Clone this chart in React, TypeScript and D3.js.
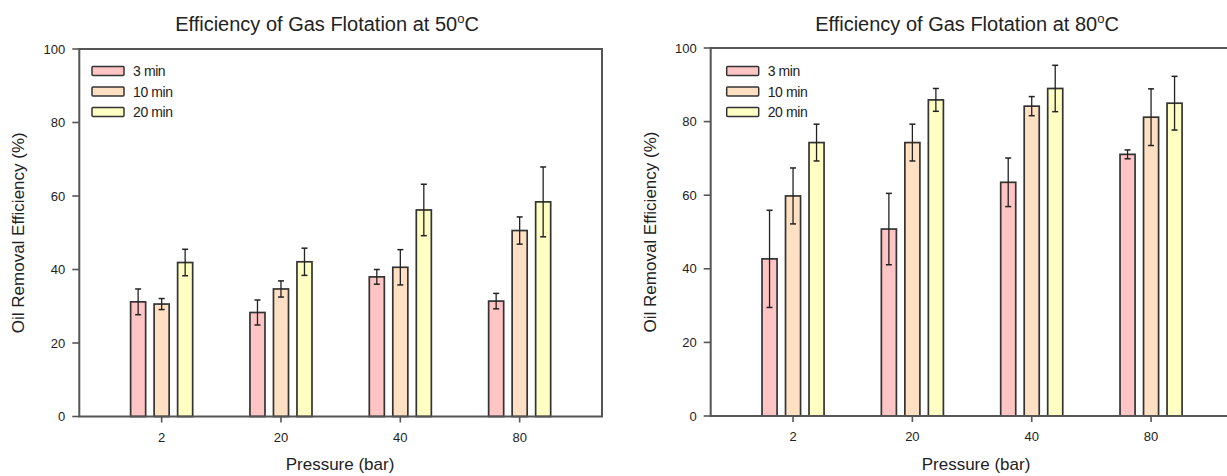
import React from "react";
import * as d3 from "d3";

const categories = ["2", "20", "40", "80"];
const seriesNames = ["3 min", "10 min", "20 min"];
const seriesColors = ["#ffc4c4", "#ffe0c2", "#ffffc4"];
const yTicks = [0, 20, 40, 60, 80, 100];

// 50°C panel: values and error (±) per series, per pressure
const t50_3min = [31.2, 28.3, 38.0, 31.4];
const t50_10min = [30.6, 34.7, 40.6, 50.6];
const t50_20min = [41.9, 42.1, 56.2, 58.4];
const t50_3min_err = [3.5, 3.4, 2.0, 2.1];
const t50_10min_err = [1.5, 2.2, 4.8, 3.7];
const t50_20min_err = [3.6, 3.7, 7.0, 9.5];

// 80°C panel
const t80_3min = [42.7, 50.8, 63.5, 71.1];
const t80_10min = [59.8, 74.3, 84.2, 81.2];
const t80_20min = [74.3, 85.9, 89.0, 85.0];
const t80_3min_err = [13.2, 9.7, 6.6, 1.2];
const t80_10min_err = [7.6, 5.0, 2.6, 7.7];
const t80_20min_err = [5.0, 3.1, 6.3, 7.3];

const FONT = "'Liberation Sans', Arial, Helvetica, sans-serif";
const AXIS_COLOR = "#555";
const TEXT_COLOR = "#222";

type PanelProps = {
  temp: string;
  values: number[][];
  errors: number[][];
  x0: number;
  top: number;
  bottom: number;
  width: number;
  titleX: number;
  labelX: number;
  yLabelX: number;
  legendDX: number;
};

function Panel(p: PanelProps) {
  const x = d3
    .scalePoint<string>()
    .domain(categories)
    .range([p.x0, p.x0 + p.width])
    .padding(0.69);
  const inner = d3
    .scaleBand<string>()
    .domain(seriesNames)
    .range([-35.25, 35.25])
    .paddingInner(0.36)
    .paddingOuter(0.18);
  const y = d3.scaleLinear().domain([0, 100]).range([p.bottom, p.top]);
  const bw = inner.bandwidth();
  const capW = 6;
  const yCenter = (p.top + p.bottom) / 2;

  return (
    <g>
      {/* title */}
      <text
        x={p.titleX}
        y={31}
        textAnchor="middle"
        fontFamily={FONT}
        fontSize={20}
        fill={TEXT_COLOR}
      >
        {"Efficiency of Gas Flotation at " + p.temp}
        <tspan dy={-8} fontSize={13}>
          o
        </tspan>
        <tspan dy={8}>C</tspan>
      </text>

      {/* bars */}
      {categories.map((c, ci) =>
        seriesNames.map((s, si) => {
          const v = p.values[si][ci];
          const e = p.errors[si][ci];
          const bx = (x(c) as number) + (inner(s) as number);
          const cx = bx + bw / 2;
          return (
            <g key={c + s}>
              <rect
                x={bx}
                y={y(v)}
                width={bw}
                height={y(0) - y(v)}
                fill={seriesColors[si]}
                stroke="#333"
                strokeWidth={1.7}
              />
              <line x1={cx} x2={cx} y1={y(v + e)} y2={y(v - e)} stroke="#222" strokeWidth={1.3} />
              <line x1={cx - capW / 2} x2={cx + capW / 2} y1={y(v + e)} y2={y(v + e)} stroke="#222" strokeWidth={1.5} />
              <line x1={cx - capW / 2} x2={cx + capW / 2} y1={y(v - e)} y2={y(v - e)} stroke="#222" strokeWidth={1.5} />
            </g>
          );
        })
      )}

      {/* frame */}
      <rect
        x={p.x0}
        y={p.top}
        width={p.width}
        height={p.bottom - p.top}
        fill="none"
        stroke={AXIS_COLOR}
        strokeWidth={2}
      />

      {/* y ticks */}
      {yTicks.map((t) => (
        <g key={t}>
          <line x1={p.x0 - 7} x2={p.x0} y1={y(t)} y2={y(t)} stroke={AXIS_COLOR} strokeWidth={1.6} />
          <text
            x={p.x0 - 14}
            y={y(t) + 4.5}
            textAnchor="end"
            fontFamily={FONT}
            fontSize={13}
            fill={TEXT_COLOR}
          >
            {t}
          </text>
        </g>
      ))}

      {/* x ticks */}
      {categories.map((c) => (
        <g key={c}>
          <line
            x1={x(c) as number}
            x2={x(c) as number}
            y1={p.bottom}
            y2={p.bottom + 6}
            stroke={AXIS_COLOR}
            strokeWidth={1.6}
          />
          <text
            x={x(c) as number}
            y={p.bottom + 25}
            textAnchor="middle"
            fontFamily={FONT}
            fontSize={13}
            fill={TEXT_COLOR}
          >
            {c}
          </text>
        </g>
      ))}

      {/* axis labels */}
      <text
        x={p.labelX}
        y={470}
        textAnchor="middle"
        fontFamily={FONT}
        fontSize={17}
        fill={TEXT_COLOR}
      >
        Pressure (bar)
      </text>
      <text
        transform={`translate(${p.yLabelX},${yCenter}) rotate(-90)`}
        textAnchor="middle"
        fontFamily={FONT}
        fontSize={17}
        fill={TEXT_COLOR}
      >
        Oil Removal Efficiency (%)
      </text>

      {/* legend */}
      {seriesNames.map((s, si) => {
        const ly = 71 + si * 20.5;
        const lx = p.x0 + p.legendDX;
        return (
          <g key={s}>
            <rect
              x={lx}
              y={ly - 4.5}
              width={32}
              height={9}
              fill={seriesColors[si]}
              stroke="#333"
              strokeWidth={1.5}
              rx={1}
            />
            <text
              x={lx + 41}
              y={ly + 5}
              fontFamily={FONT}
              fontSize={14}
              fill={TEXT_COLOR}
              letterSpacing={-0.4}
            >
              {s}
            </text>
          </g>
        );
      })}
    </g>
  );
}

export default function App() {
  return (
    <svg
      width={1227}
      height={476}
      style={{ position: "absolute", left: 0, top: 0, background: "#fff" }}
    >
      <rect x={0} y={0} width={1227} height={476} fill="#fff" />
      <Panel
        temp="50"
        values={[t50_3min, t50_10min, t50_20min]}
        errors={[t50_3min_err, t50_10min_err, t50_20min_err]}
        x0={79.3}
        top={49}
        bottom={416.5}
        width={522.7}
        titleX={327}
        labelX={340}
        yLabelX={24}
        legendDX={12.7}
      />
      <Panel
        temp="80"
        values={[t80_3min, t80_10min, t80_20min]}
        errors={[t80_3min_err, t80_10min_err, t80_20min_err]}
        x0={710.7}
        top={48}
        bottom={416}
        width={522.7}
        titleX={967}
        labelX={976}
        yLabelX={656}
        legendDX={16}
      />
    </svg>
  );
}
